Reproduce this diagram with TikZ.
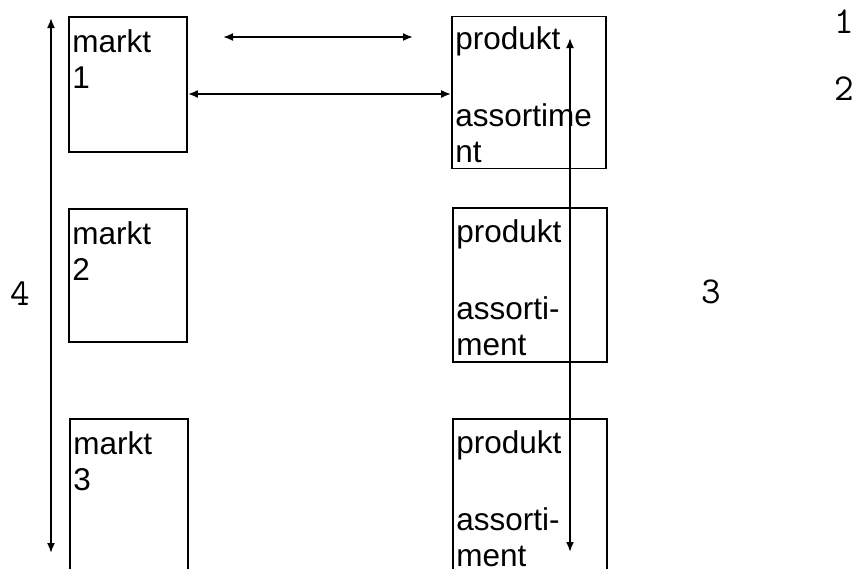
\documentclass[tikz,border=0pt]{standalone}
\usepackage{fontspec}
\setmainfont{Liberation Sans}
\usetikzlibrary{positioning,calc,arrows.meta}
\tikzset{
  box/.style={draw,line width=1.8pt,minimum width=118pt,minimum height=135pt,inner sep=0pt},
  pbox/.style={box,minimum width=154pt,minimum height=152pt},
  txt/.style={anchor=north west,align=left,inner sep=0pt,font=\fontsize{31.5}{36}\selectfont},
  num/.style={inner sep=0pt,font=\ttfamily\fontsize{38}{40}\selectfont},
  link/.style={line width=1.8pt,{Latex[length=10pt,width=8pt]}-{Latex[length=10pt,width=8pt]}},
}
\begin{document}
\begin{tikzpicture}[x=1pt,y=-1pt]
  \clip (0,0) rectangle (857,568);
  \node[box] (m1) at (128,84.5) {};
  \node[box,minimum height=133pt] (m2) at (128,275.5) {};
  \node[box,minimum height=200pt] (m3) at (129,519) {};
  \node[pbox] (p1) at (529,92.5) {};
  \node[pbox,minimum height=154pt] (p2) at (530,285) {};
  \node[pbox,minimum height=200pt] (p3) at (530,519) {};
  \node[txt] (m1t) at ($(m1.north west)+(4,13)$) {markt\\1};
  \node[txt] (m2t) at ($(m2.north west)+(4,13)$) {markt\\2};
  \node[txt] (m3t) at ($(m3.north west)+(4,13)$) {markt\\3};
  \node[txt] (p1t) at ($(p1.north west)+(4,11)$) {produkt\\[41pt]assortime\\nt};
  \node[txt] (p2t) at ($(p2.north west)+(4,12)$) {produkt\\[41pt]assorti-\\ment};
  \node[txt] (p3t) at ($(p3.north west)+(4,12)$) {produkt\\[41pt]assorti-\\ment};
  \coordinate (t1) at (223,37);
  \coordinate (t2) at (413,37);
  \coordinate (l1) at (51,18);
  \coordinate (l2) at (51,553);
  \coordinate (r1) at (570,38);
  \coordinate (r2) at (570,552);
  \draw[link] (t1) -- (t2);
  \draw[link] (m1.east |- 0,94) -- (p1.west |- 0,94);
  \draw[link] (l1) -- (l2);
  \draw[link] (r1) -- (r2);
  \node[num] (n1) at (844,22) {1};
  \node[num] (n2) at (844,89) {2};
  \node[num] (n3) at (711,292) {3};
  \node[num] (n4) at (20,294) {4};
\end{tikzpicture}
\end{document}
